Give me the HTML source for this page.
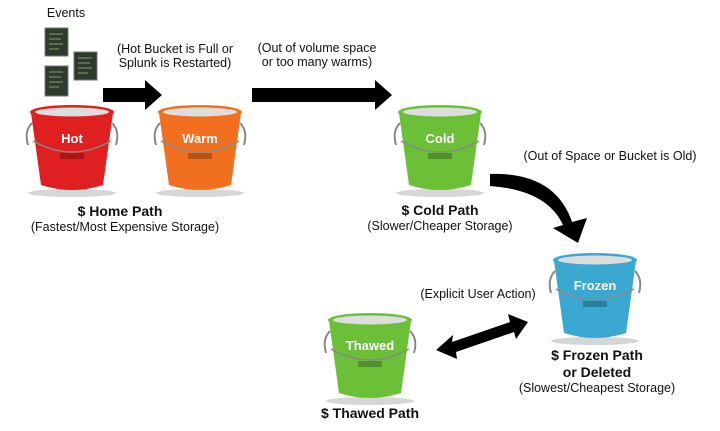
<!DOCTYPE html>
<html><head><meta charset="utf-8"><style>
html,body{margin:0;padding:0;background:#fff;}
svg{display:block;}
text{font-family:"Liberation Sans",sans-serif;fill:#111;}
.s{font-size:12.5px;}
.b{font-size:14px;font-weight:bold;}
.l{font-size:13px;font-weight:bold;fill:#fff;}
</style></head><body>
<svg width="720" height="431" viewBox="0 0 720 431" xmlns="http://www.w3.org/2000/svg">
<defs>
<g id="bk">
<ellipse cx="42" cy="88" rx="44" ry="4" fill="#bbb" opacity="0.6"/>
<path d="M-2,40 Q-6,26 2,18 M86,40 Q90,26 82,18" stroke="#888" stroke-width="2" fill="none"/>
<path d="M1,8 L11,80 Q42,90 73,80 L83,8 Z" fill="currentColor"/>
<path d="M3,36 Q42,58 81,36" stroke="#888" stroke-width="1.5" fill="none"/>
<rect x="30" y="48" width="24" height="6" fill="#000" opacity="0.25"/>
<ellipse cx="42" cy="7" rx="42" ry="7" fill="currentColor"/>
<ellipse cx="42" cy="7" rx="37" ry="4.5" fill="#ddd"/>
</g>
</defs>
<text x="66" y="17" class="s" text-anchor="middle">Events</text>
<rect x="45" y="28" width="23" height="28" fill="#2e3b2c" stroke="#777"/>
<rect x="74" y="52" width="23" height="28" fill="#2e3b2c" stroke="#777"/>
<rect x="45" y="66" width="23" height="30" fill="#2e3b2c" stroke="#777"/>
<g stroke="#8a9a70" stroke-width="1"><path d="M49,34h14M49,39h12M49,44h14M49,49h10M78,58h14M78,63h12M78,68h14M78,73h10M49,72h14M49,77h12M49,82h14M49,87h10"/></g>

<g color="#e02020" transform="translate(30,105)"><use href="#bk"/></g>
<g color="#f07020" transform="translate(158,105)"><use href="#bk"/></g>
<g color="#6cc038" transform="translate(398,105)"><use href="#bk"/></g>
<g color="#3aa8d0" transform="translate(553,253)"><use href="#bk"/></g>
<g color="#6cc038" transform="translate(328,313)"><use href="#bk"/></g>
<text x="72" y="143" class="l" text-anchor="middle">Hot</text>
<text x="200" y="143" class="l" text-anchor="middle">Warm</text>
<text x="440" y="143" class="l" text-anchor="middle">Cold</text>
<text x="595" y="290" class="l" text-anchor="middle">Frozen</text>
<text x="370" y="350" class="l" text-anchor="middle">Thawed</text>

<path d="M103,88 H145 V80 L162,95 L145,110 V102 H103 Z" fill="#000"/>
<path d="M252,88 H375 V80 L392,95 L375,110 V102 H252 Z" fill="#000"/>
<path d="M490,174 Q555,172 572,222 L587,218 L578,243 L553,228 L563,225 Q547,190 490,186 Z" fill="#000"/>
<path d="M436,350 L453,335 L452,342 L510,322 L508,314 L528,322 L516,339 L514,332 L456,352 L457,359 Z" fill="#000"/>

<text x="175" y="53" class="s" text-anchor="middle">(Hot Bucket is Full or</text>
<text x="175" y="67" class="s" text-anchor="middle">Splunk is Restarted)</text>
<text x="317" y="52" class="s" text-anchor="middle">(Out of volume space</text>
<text x="317" y="66" class="s" text-anchor="middle">or too many warms)</text>
<text x="120" y="216" class="b" text-anchor="middle">$ Home Path</text>
<text x="125" y="231" class="s" text-anchor="middle">(Fastest/Most Expensive Storage)</text>
<text x="440" y="215" class="b" text-anchor="middle">$ Cold Path</text>
<text x="440" y="230" class="s" text-anchor="middle">(Slower/Cheaper Storage)</text>
<text x="610" y="160" class="s" text-anchor="middle">(Out of Space or Bucket is Old)</text>
<text x="478" y="298" class="s" text-anchor="middle">(Explicit User Action)</text>
<text x="597" y="360" class="b" text-anchor="middle">$ Frozen Path</text>
<text x="597" y="377" class="b" text-anchor="middle">or Deleted</text>
<text x="597" y="392" class="s" text-anchor="middle">(Slowest/Cheapest Storage)</text>
<text x="370" y="418" class="b" text-anchor="middle">$ Thawed Path</text>
</svg>
</body></html>
